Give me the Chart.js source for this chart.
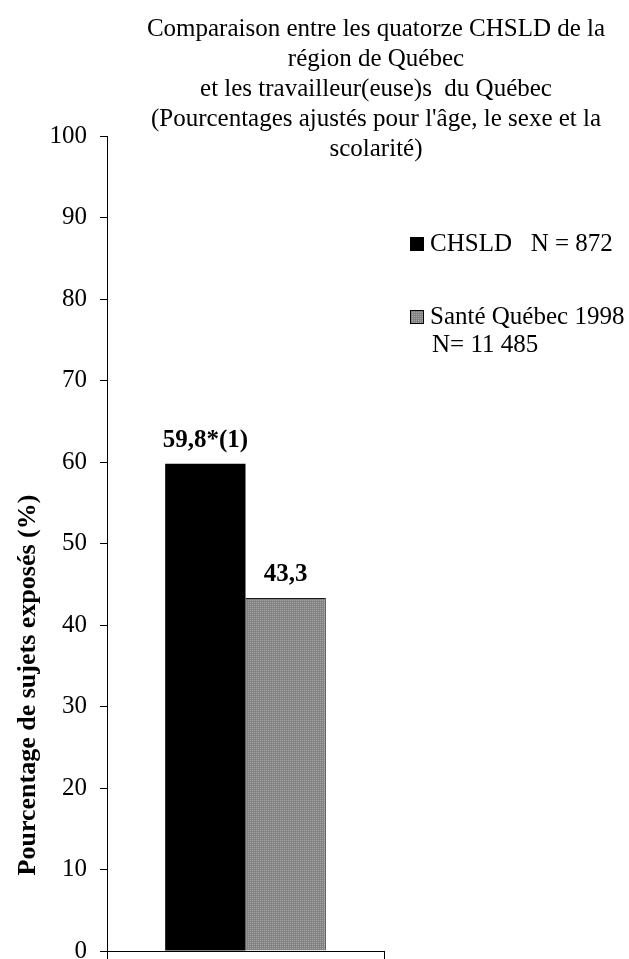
<!DOCTYPE html>
<html>
<head>
<meta charset="utf-8">
<title>CHSLD vs Santé Québec</title>
<script src="https://cdn.jsdelivr.net/npm/chart.js@4.4.1/dist/chart.umd.min.js"></script>
<style>
  html, body { margin: 0; padding: 0; background: #fff; }
  #wrap { width: 629px; height: 959px; position: relative; }
</style>
</head>
<body>
<div id="wrap"><canvas id="chart"></canvas></div>
<script>
// ---- data ----
const categories = [""];
const chsldLabel = ["CHSLD   N = 872"];
const santeLabel = ["Santé Québec 1998", "N= 11 485"];
const chsldValues = [59.8];
const santeValues = [43.3];
const chsldText = ["59,8*(1)"];
const santeText = ["43,3"];
const titleLines = [
  "Comparaison entre les quatorze CHSLD de la",
  "région de Québec",
  "et les travailleur(euse)s  du Québec",
  "(Pourcentages ajustés pour l'âge, le sexe et la",
  "scolarité)"
];
const yTitle = "Pourcentage de sujets exposés (%)";

const SERIF = "'Liberation Serif', 'Times New Roman', serif";

// dotted grey fill like the original
function dotPattern() {
  const c = document.createElement("canvas");
  c.width = 2; c.height = 2;
  const g = c.getContext("2d");
  g.fillStyle = "#838383";
  g.fillRect(0, 0, 2, 2);
  g.fillStyle = "#a6a6a6";
  g.fillRect(0, 0, 1, 1);
  return g.createPattern(c, "repeat");
}

// title, legend, axis title and value labels
const textPlugin = {
  id: "textPlugin",
  afterDraw(chart) {
    const ctx = chart.ctx;
    ctx.save();
    ctx.fillStyle = "#000";

    // title
    ctx.font = "25px " + SERIF;
    ctx.textAlign = "center";
    ctx.textBaseline = "alphabetic";
    titleLines.forEach((line, i) => {
      ctx.fillText(line, 376, 36 + i * 30);
    });

    // legend
    const items = [
      { label: chsldLabel, y: 251 },
      { label: santeLabel, y: 324 }
    ];
    items.forEach((it, i) => {
      const ds = chart.data.datasets[i];
      ctx.fillStyle = ds.backgroundColor;
      ctx.fillRect(410, it.y - 14, 14, 14);
      ctx.strokeStyle = "#000";
      ctx.lineWidth = 1;
      ctx.strokeRect(410.5, it.y - 13.5, 13, 13);
      ctx.fillStyle = "#000";
      ctx.font = "25px " + SERIF;
      ctx.textAlign = "left";
      it.label.forEach((l, j) => {
        ctx.fillText(l, j === 0 ? 430 : 432, it.y + j * 28);
      });
    });

    // y axis title
    ctx.save();
    ctx.translate(35, 685);
    ctx.rotate(-Math.PI / 2);
    ctx.font = "bold 26px " + SERIF;
    ctx.textAlign = "center";
    ctx.fillText(yTitle, 0, 0);
    ctx.restore();

    // value labels
    ctx.font = "bold 25px " + SERIF;
    ctx.textAlign = "center";
    const texts = [chsldText, santeText];
    chart.data.datasets.forEach((ds, i) => {
      const meta = chart.getDatasetMeta(i);
      meta.data.forEach((bar, j) => {
        ctx.fillText(texts[i][j], bar.x, bar.y - 17);
      });
    });

    ctx.restore();
  }
};

new Chart(document.getElementById("chart"), {
  type: "bar",
  data: {
    labels: categories,
    datasets: [
      {
        label: chsldLabel.join(" "),
        data: chsldValues,
        backgroundColor: "#000",
        borderWidth: 0
      },
      {
        label: santeLabel.join(" "),
        data: santeValues,
        backgroundColor: dotPattern(),
        borderColor: "#1a1a1a",
        borderWidth: 1
      }
    ]
  },
  options: {
    responsive: true,
    maintainAspectRatio: false,
    animation: false,
    devicePixelRatio: 1,
    layout: { padding: { top: 136, left: 7, right: 245, bottom: 0 } },
    datasets: {
      bar: { categoryPercentage: 0.58, barPercentage: 1 }
    },
    plugins: {
      legend: { display: false },
      title: { display: false },
      tooltip: { enabled: false }
    },
    scales: {
      x: {
        grid: {
          display: true,
          drawOnChartArea: false,
          drawTicks: true,
          tickLength: 8,
          color: "#000",
          offset: true
        },
        border: { display: true, color: "#000", width: 1 },
        ticks: { display: false },
        afterFit(s) { s.height = 8; s.paddingLeft = 0; s.paddingRight = 0; }
      },
      y: {
        min: 0,
        max: 100,
        ticks: {
          stepSize: 10,
          color: "#000",
          padding: 13,
          font: { family: SERIF, size: 25 }
        },
        grid: {
          display: true,
          drawOnChartArea: false,
          drawTicks: true,
          tickLength: 7,
          color: "#000"
        },
        border: { display: true, color: "#000", width: 1 },
        afterFit(s) { s.width = 100; s.paddingTop = 0; s.paddingBottom = 0; }
      }
    }
  },
  plugins: [textPlugin]
});
</script>
</body>
</html>
